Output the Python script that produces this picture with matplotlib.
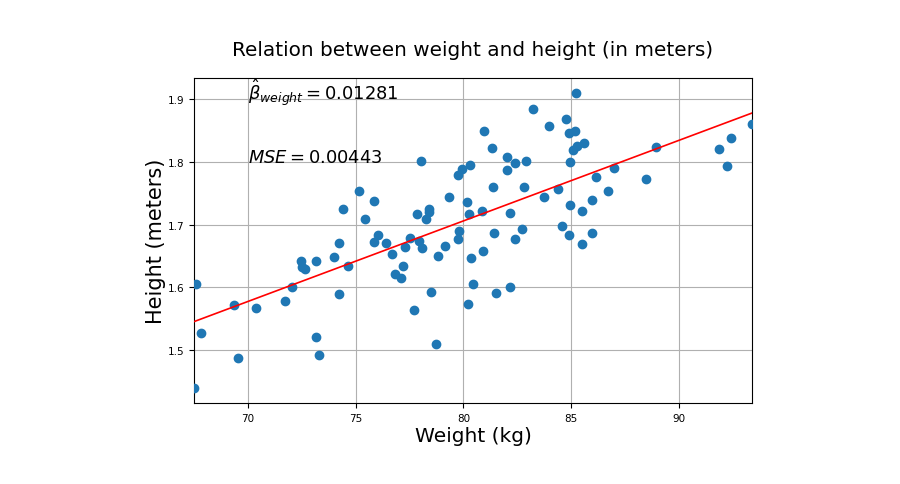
import numpy as np
import matplotlib
matplotlib.use("Agg")
from matplotlib import pyplot as plt

# weight (kg) and height (m)
weights = [74.43, 75.17, 75.85, 75.45, 76.05, 83.23, 83.98, 80.96, 81.33, 78.03,
           82.02, 82.39, 82.91, 82.02, 80.32, 79.93, 79.75, 81.37, 82.80, 79.33,
           83.73, 80.16, 78.40, 78.40, 77.85, 78.26, 80.25, 80.86, 82.17, 77.52,
           79.79, 79.76, 81.43, 82.72, 82.40, 84.38, 85.21, 84.75, 84.89, 85.17,
           85.58, 85.27, 85.09, 84.95, 88.92, 91.84, 92.41, 92.22, 93.38, 86.99,
           86.15, 88.47, 86.70, 85.97, 84.94, 85.51, 84.58, 84.90, 85.97, 75.85,
           74.24, 72.48, 73.18, 74.01, 72.52, 72.66, 74.66, 67.60, 72.07, 69.37,
           70.40, 71.73, 74.24, 67.84, 73.17, 69.56, 73.32, 67.51, 76.42, 77.30,
           77.95, 78.09, 76.70, 77.21, 76.84, 77.12, 79.16, 78.83, 80.36, 80.92,
           80.45, 78.51, 77.72, 80.21, 81.52, 82.17, 78.74, 85.51]
heights = [1.725, 1.753, 1.738, 1.709, 1.684, 1.883, 1.856, 1.848, 1.821, 1.801,
           1.807, 1.797, 1.801, 1.787, 1.794, 1.788, 1.778, 1.760, 1.760, 1.743,
           1.743, 1.736, 1.725, 1.720, 1.716, 1.709, 1.717, 1.721, 1.718, 1.678,
           1.690, 1.677, 1.686, 1.693, 1.677, 1.757, 1.909, 1.868, 1.845, 1.848,
           1.829, 1.824, 1.818, 1.799, 1.823, 1.820, 1.838, 1.793, 1.859, 1.790,
           1.776, 1.772, 1.753, 1.739, 1.731, 1.722, 1.698, 1.683, 1.686, 1.672,
           1.671, 1.642, 1.642, 1.648, 1.633, 1.630, 1.634, 1.606, 1.600, 1.572,
           1.567, 1.578, 1.589, 1.527, 1.521, 1.488, 1.492, 1.440, 1.670, 1.664,
           1.674, 1.663, 1.653, 1.634, 1.622, 1.615, 1.666, 1.650, 1.647, 1.658,
           1.606, 1.593, 1.565, 1.574, 1.592, 1.601, 1.511, 1.669]

beta_weight = 0.01281
intercept = 0.681
mse = 0.00443

fig = plt.figure(figsize=(9, 4.85), dpi=100)
fig.patch.set_alpha(0)
ax = fig.add_axes([0.2156, 0.167, 0.62, 0.671])
ax.set_facecolor('white')

ax.scatter(weights, heights, s=36, color='#1f77b4', zorder=3)

x_line = np.array([min(weights), max(weights)])
ax.plot(x_line, intercept + beta_weight * x_line, c='red', lw=1.2, zorder=4)

ax.text(70, 1.9, r'$\hat{\beta}_{weight} = %.5f$' % beta_weight, fontsize=12.9)
ax.text(70, 1.8, r'$MSE = %.5f$' % mse, fontsize=12.9)

ax.set_xlim(min(weights), max(weights))
ax.set_ylim(1.4165, 1.9335)
ax.set_xticks([70, 75, 80, 85, 90])
ax.set_yticks([1.5, 1.6, 1.7, 1.8, 1.9])
ax.grid(True, color='#b0b0b0', lw=0.8)
ax.set_axisbelow(True)
ax.tick_params(axis='both', which='major', labelsize=7.5)

plt.title("Relation between weight and height (in meters)", fontsize=14.4, pad=16)
plt.xlabel("Weight (kg)", fontsize=14.5, labelpad=2)
plt.ylabel("Height (meters)", fontsize=15, labelpad=1)

fig.savefig('out.png', dpi=100)
